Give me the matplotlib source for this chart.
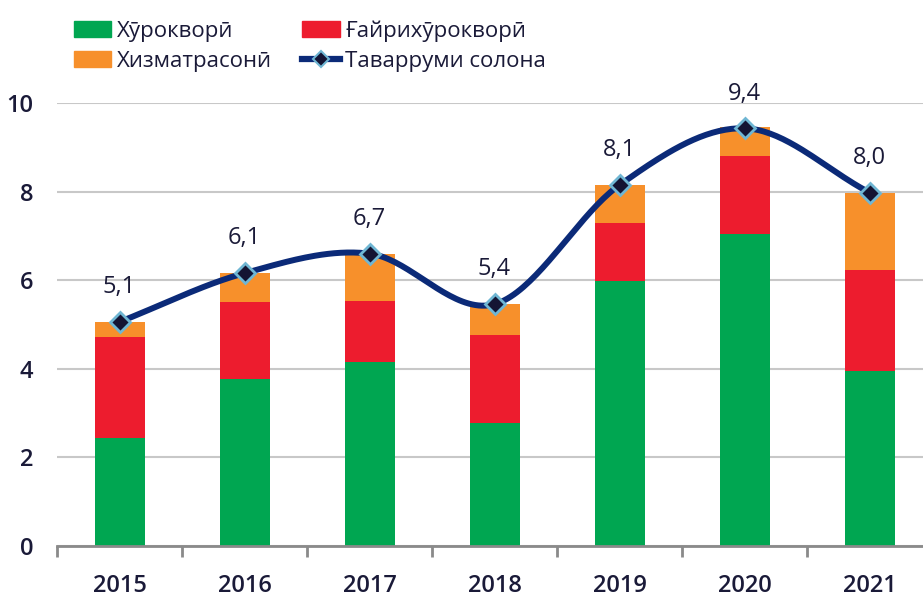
import numpy as np
import matplotlib.pyplot as plt
from matplotlib.lines import Line2D
from matplotlib.patches import Patch

years = ["2015", "2016", "2017", "2018", "2019", "2020", "2021"]
food = [2.44, 3.77, 4.15, 2.78, 5.99, 7.04, 3.95]
nonfood = [2.27, 1.74, 1.38, 1.98, 1.31, 1.76, 2.28]
services = [0.35, 0.65, 1.06, 0.70, 0.85, 0.67, 1.75]
inflation = [5.06, 6.16, 6.60, 5.46, 8.15, 9.43, 7.98]
infl_labels = ["5,1", "6,1", "6,7", "5,4", "8,1", "9,4", "8,0"]

names = ["Хӯрокворӣ", "Ғайрихӯрокворӣ", "Хизматрасонӣ", "Таварруми солона"]
GREEN, RED, ORANGE = "#00A651", "#ED1C2E", "#F7902B"
NAVY, DARK, LIGHT = "#0B2A78", "#141433", "#6FB6D3"
TXT = "#1a1a38"

plt.rcParams["font.family"] = ["Open Sans", "DejaVu Sans"]


def catmull_rom(x, y, n=40):
    # smooth curve through the points, like Excel's "smoothed line"
    x = np.asarray(x, float)
    y = np.asarray(y, float)
    px = np.concatenate([[2 * x[0] - x[1]], x, [2 * x[-1] - x[-2]]])
    py = np.concatenate([[2 * y[0] - y[1]], y, [2 * y[-1] - y[-2]]])
    xs, ys = [], []
    t = np.linspace(0, 1, n)
    for i in range(1, len(px) - 2):
        for p, out in ((px, xs), (py, ys)):
            p0, p1, p2, p3 = p[i - 1], p[i], p[i + 1], p[i + 2]
            out.append(0.5 * ((2 * p1) + (-p0 + p2) * t
                              + (2 * p0 - 5 * p1 + 4 * p2 - p3) * t ** 2
                              + (-p0 + 3 * p1 - 3 * p2 + p3) * t ** 3))
    return np.concatenate(xs), np.concatenate(ys)


fig = plt.figure(figsize=(9.23, 5.97), dpi=100)
ax = fig.add_axes([0.0618, 0.0854, 0.948, 0.742])

x = np.arange(len(years))
w = 0.4
food = np.array(food)
nonfood = np.array(nonfood)
services = np.array(services)
ax.bar(x, food, w, color=GREEN, zorder=2)
ax.bar(x, nonfood, w, bottom=food, color=RED, zorder=2)
ax.bar(x, services, w, bottom=food + nonfood, color=ORANGE, zorder=2)

sx, sy = catmull_rom(x, inflation)
ax.plot(sx, sy, color=NAVY, lw=4.3, solid_capstyle="round", zorder=3)
ax.plot(x, inflation, ls="none", marker="D", ms=10, mfc=DARK, mec=LIGHT,
        mew=2, zorder=4)
for xi, yi, lab in zip(x, inflation, infl_labels):
    ax.annotate(lab, (xi, yi), xytext=(0, 25), textcoords="offset points",
                ha="center", va="center", fontsize=17, color=TXT)

ax.set_xlim(-0.5, len(years) - 0.5)
ax.set_ylim(0, 10)
ax.set_yticks(range(0, 11, 2))
ax.set_xticks(x)
ax.set_xticklabels(years)
ax.set_xticks(np.arange(-0.5, len(years)), minor=True)
ax.tick_params(axis="x", which="major", length=0, pad=20, labelsize=17,
               labelcolor=TXT)
ax.tick_params(axis="x", which="minor", length=8, width=2, color="#8a8a8a",
               direction="out")
ax.tick_params(axis="y", length=0, pad=17, labelsize=17, labelcolor=TXT)
for lab in ax.get_xticklabels() + ax.get_yticklabels():
    lab.set_fontweight("semibold")

ax.grid(axis="y", color="#c8c8c8", lw=1.5, zorder=0)
for s in ["top", "right", "left"]:
    ax.spines[s].set_visible(False)
ax.spines["bottom"].set_color("#8a8a8a")
ax.spines["bottom"].set_linewidth(2)
ax.spines["bottom"].set_zorder(5)

handles = [
    Patch(color=GREEN),
    Patch(color=ORANGE),
    Patch(color=RED),
    Line2D([], [], color=NAVY, lw=4.5, marker="D", ms=8, mfc=DARK, mec=LIGHT,
           mew=1.5),
]
labels = [names[0], names[2], names[1], names[3]]
fig.legend(handles, labels, ncol=2, loc="upper left",
           bbox_to_anchor=(0.058, 1.0), frameon=False, fontsize=16,
           handlelength=1.7, handleheight=0.75, handletextpad=0.25,
           columnspacing=1.35, labelspacing=0.42, labelcolor=TXT,
           prop={"size": 16, "weight": "medium"})

fig.savefig("out.png", dpi=100)
